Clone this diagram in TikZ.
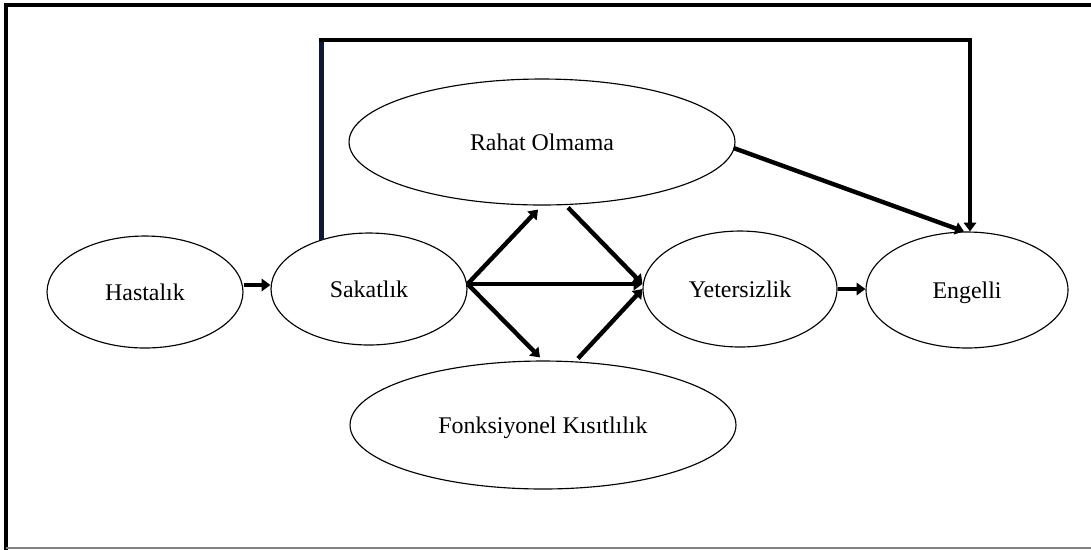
\documentclass[tikz,border=0pt]{standalone}
\usepackage{fontspec}
\setmainfont{Liberation Serif}
\usetikzlibrary{shapes.geometric,arrows.meta,calc}
\definecolor{navyline}{RGB}{14,24,58}
\begin{document}
\begin{tikzpicture}[x=0.02cm,y=-0.02cm,
  oval/.style={ellipse,draw,line width=0.65pt,inner sep=0pt,text depth=0pt,font=\fontsize{13.6}{16}\selectfont},
  arr/.style={line width=2.5pt,-{Triangle[length=5pt,width=7pt]}},
  thick line/.style={line width=2.8pt}]
\useasboundingbox (0,0) rectangle (1091,549);
% frame
\draw[line width=1.8pt,line cap=rect] (6,548) -- (6,5) -- (1091,5);
\draw[line width=0.8pt,gray] (6,548) -- (1091,548);
% nodes
\node[oval,minimum width=3.92cm,minimum height=2.24cm] (has) at (145,292) {Hastalık};
\node[oval,minimum width=3.92cm,minimum height=2.24cm] (sak) at (369,289) {Sakatlık};
\node[oval,minimum width=7.72cm,minimum height=2.52cm] (rah) at (542,142) {Rahat Olmama};
\node[oval,minimum width=7.72cm,minimum height=2.56cm] (fon) at (543,425) {Fonksiyonel Kısıtlılık};
\node[oval,minimum width=3.88cm,minimum height=2.32cm] (yet) at (740,289) {Yetersizlik};
\node[oval,minimum width=4.04cm,minimum height=2.32cm] (eng) at (967,290) {Engelli};
% top connector
\coordinate (tl) at (322,40);
\coordinate (tr) at (970,40);
\draw[thick line,navyline] (sak.134) -- (sak.134 |- tl);
\draw[thick line,line cap=rect] (sak.134 |- tl) -- (tr);
\draw[arr] (tr) -- (tr |- eng.north);
% arrows
\draw[arr] ($(has.east)+(0,-7)$) -- ($(sak.west)+(0,-4)$);
\draw[arr] ($(sak.east)+(0,-5)$) -- ($(rah.south)+(-4,4)$);
\draw[arr] ($(sak.east)+(0,-5)$) -- ($(fon.north)+(-3,-3)$);
\draw[arr] ($(sak.east)+(0,-5)$) -- ($(yet.west)+(0,-5)$);
\draw[arr] ($(rah.south)+(26,2)$) -- ($(yet.west)+(0,-5)$);
\draw[arr] ($(fon.north)+(35,-2)$) -- ($(yet.west)+(0,0)$);
\draw[arr] ($(rah.east)+(-2,6)$) -- ($(eng.north)+(-3,0)$);
\draw[arr] (yet.east) -- ($(eng.west)+(0,-1)$);
\end{tikzpicture}
\end{document}
